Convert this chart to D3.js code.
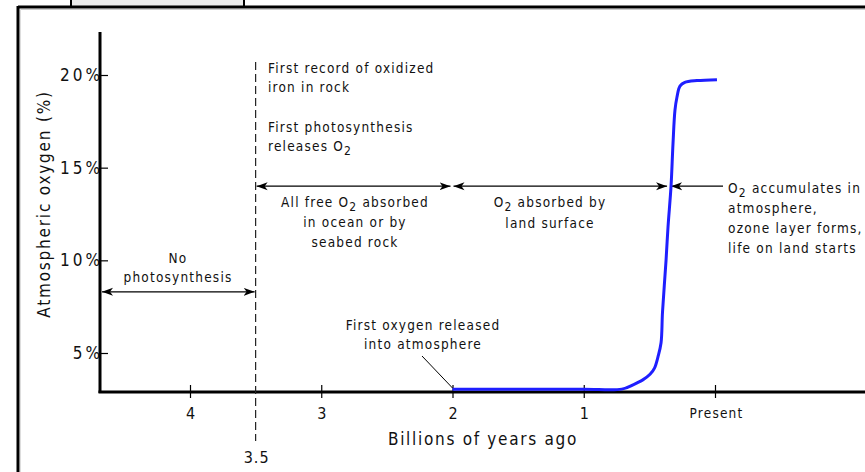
<!DOCTYPE html>
<html>
<head>
<meta charset="utf-8">
<script src="https://cdn.jsdelivr.net/npm/d3@7"></script>
<style>
  body { margin: 0; background: #fff; }
  text { font-family: "DejaVu Sans Condensed", "Liberation Sans Narrow", sans-serif; fill: #111; }
</style>
</head>
<body>
<div id="graphique"></div>
<script>
// ticks of the x axis (billions of years ago)
const xTicks = [4, 3, 2, 1, 0];
const xTickLabels = ["4", "3", "2", "1", "Present"];
const yTicks = [5, 10, 15, 20];
const yTickLabels = ["5%", "10%", "15%", "20%"];

// oxygen curve
const ages = [2.0, 1.5, 1.0, 0.71, 0.62, 0.55, 0.495, 0.46, 0.434, 0.411, 0.40, 0.373, 0.358, 0.335, 0.32, 0.305, 0.29, 0.267, 0.23, 0.137, -0.015];
const oxygen = [3.05, 3.05, 3.05, 3.05, 3.3, 3.55, 3.85, 4.2, 4.8, 5.55, 7.2, 10.0, 11.8, 14.0, 16.3, 18.1, 18.8, 19.4, 19.6, 19.7, 19.75];

// periods shown with arrows
const periodStart = [3.5, 2.0];
const periodEnd = [2.0, 0.35];
const photosynthesisStart = 3.5;

let svg = d3.select("#graphique").append("svg")
    .attr("width", 865)
    .attr("height", 472);

let x = d3.scaleLinear().domain([0, 4]).range([715, 190]);
let y = d3.scaleLinear().domain([5, 20]).range([353, 75]);

const axeX = 392, axeY = 100;

// cadre de la fenetre
svg.append("rect").attr("x", 71).attr("y", -2).attr("width", 173).attr("height", 9)
    .attr("fill", "#ececec").attr("stroke", "#000").attr("stroke-width", 2);
svg.append("line").attr("x1", 18).attr("x2", 865).attr("y1", 7).attr("y2", 7)
    .attr("stroke", "#000").attr("stroke-width", 3);
svg.append("line").attr("x1", 18).attr("x2", 18).attr("y1", 6).attr("y2", 472)
    .attr("stroke", "#000").attr("stroke-width", 3);
svg.append("line").attr("x1", 20).attr("x2", 865).attr("y1", 9.5).attr("y2", 9.5)
    .attr("stroke", "#ccc").attr("stroke-width", 1);
svg.append("line").attr("x1", 20.5).attr("x2", 20.5).attr("y1", 9).attr("y2", 472)
    .attr("stroke", "#ddd").attr("stroke-width", 1);

// fleches
let defs = svg.append("defs");
defs.append("marker").attr("id", "fleche")
    .attr("viewBox", "0 -5 12 10").attr("refX", 11).attr("refY", 0)
    .attr("markerWidth", 12).attr("markerHeight", 10).attr("markerUnits", "userSpaceOnUse")
    .attr("orient", "auto-start-reverse")
    .append("path").attr("d", "M0,-4L11,0L0,4L3,0Z").attr("fill", "#000");

// axe y
let gy = svg.append("g").attr("transform", "translate(" + axeY + ",0)")
    .call(d3.axisLeft(y).tickValues(yTicks).tickFormat((d, i) => yTickLabels[i]).tickSize(-8).tickPadding(0));
gy.select(".domain").remove();
gy.selectAll(".tick line").attr("stroke", "#000").attr("stroke-width", 1.2);
// le letter-spacing ajoute un espace apres le %, on le compense
gy.selectAll(".tick text").attr("font-size", 17).attr("fill", "#111")
    .attr("letter-spacing", 3).attr("dx", 3)
    .style("font-family", "'DejaVu Sans Condensed', sans-serif");
svg.append("line").attr("x1", axeY).attr("x2", axeY).attr("y1", 32).attr("y2", axeX + 1)
    .attr("stroke", "#000").attr("stroke-width", 3);

// axe x
let gx = svg.append("g").attr("transform", "translate(0," + axeX + ")")
    .call(d3.axisBottom(x).tickValues(xTicks).tickFormat((d, i) => xTickLabels[i]).tickSize(6).tickPadding(10));
gx.select(".domain").remove();
gx.selectAll(".tick line").attr("y1", -7).attr("y2", 6).attr("stroke", "#000").attr("stroke-width", 1.2);
gx.selectAll(".tick text").attr("font-size", 16).attr("fill", "#111")
    .style("font-family", "'DejaVu Sans Condensed', sans-serif");
gx.selectAll(".tick text").filter(d => d == 0).attr("font-size", 13.5).attr("letter-spacing", 1.2).attr("dx", 1);
svg.append("line").attr("x1", axeY - 1.5).attr("x2", 865).attr("y1", axeX).attr("y2", axeX)
    .attr("stroke", "#000").attr("stroke-width", 3);

// titres des axes
svg.append("text").text("Billions of years ago")
    .attr("x", 483).attr("y", 445).attr("text-anchor", "middle")
    .attr("font-size", 17).attr("letter-spacing", 1.7);
svg.append("text").text("Atmospheric oxygen (%)")
    .attr("transform", "translate(50,204) rotate(-90)").attr("text-anchor", "middle")
    .attr("font-size", 17).attr("letter-spacing", 1.8);

// ligne pointillee a 3.5
svg.append("line").attr("x1", x(photosynthesisStart)).attr("x2", x(photosynthesisStart))
    .attr("y1", 62).attr("y2", 441)
    .attr("stroke", "#222").attr("stroke-width", 1.2).attr("stroke-dasharray", "8,4");
svg.append("text").text("3.5").attr("x", x(photosynthesisStart) + 1).attr("y", 463)
    .attr("text-anchor", "middle").attr("font-size", 16).attr("letter-spacing", 1);

// fleches des periodes
let yFleche = y(14);
svg.append("line").attr("x1", axeY + 2).attr("x2", x(photosynthesisStart) - 1)
    .attr("y1", y(8.3)).attr("y2", y(8.3))
    .attr("stroke", "#000").attr("stroke-width", 1.2)
    .attr("marker-start", "url(#fleche)").attr("marker-end", "url(#fleche)");
svg.selectAll(".periode").data(periodStart).enter().append("line")
    .attr("class", "periode")
    .attr("x1", (d, i) => x(d) + 1).attr("x2", (d, i) => x(periodEnd[i]) - 2)
    .attr("y1", yFleche).attr("y2", yFleche)
    .attr("stroke", "#000").attr("stroke-width", 1.2)
    .attr("marker-start", "url(#fleche)").attr("marker-end", "url(#fleche)");
svg.append("line").attr("x1", 723).attr("x2", x(periodEnd[1]) + 2)
    .attr("y1", yFleche).attr("y2", yFleche)
    .attr("stroke", "#000").attr("stroke-width", 1.2)
    .attr("marker-end", "url(#fleche)");

// courbe d'oxygene
let points = ages.map((d, i) => [d, oxygen[i]]);
svg.append("path").datum(points)
    .attr("d", d3.line().x(d => x(d[0])).y(d => y(d[1])).curve(d3.curveCatmullRom.alpha(0.5)))
    .attr("fill", "none").attr("stroke", "#1f1fff").attr("stroke-width", 3);

// textes
function bloc(lignes, px, py, ancre, pas) {
    lignes.forEach((l, i) => {
        let t = svg.append("text").attr("x", px).attr("y", py + i * pas)
            .attr("text-anchor", ancre).attr("font-size", 13.5).attr("letter-spacing", 1.2);
        // O2 avec indice
        if (l.indexOf("O2") >= 0) {
            let morceaux = l.split("O2");
            t.append("tspan").text(morceaux[0] + "O");
            t.append("tspan").text("2").attr("dy", 4).attr("font-size", 12);
            t.append("tspan").text(morceaux[1]).attr("dy", -4);
        } else {
            t.text(l);
        }
    });
}
bloc(["First record of oxidized", "iron in rock"], 268, 73, "start", 19);
bloc(["First photosynthesis", "releases O2"], 268, 132, "start", 19);
bloc(["No", "photosynthesis"], 178, 263, "middle", 19);
bloc(["All free O2 absorbed", "in ocean or by", "seabed rock"], 355, 207, "middle", 20);
bloc(["O2 absorbed by", "land surface"], 550, 207, "middle", 21);
bloc(["O2 accumulates in", "atmosphere,", "ozone layer forms,", "life on land starts"], 728, 193, "start", 20);
bloc(["First oxygen released", "into atmosphere"], 423, 330, "middle", 19);

svg.append("line").attr("x1", 422).attr("y1", 356).attr("x2", x(2)).attr("y2", 388)
    .attr("stroke", "#000").attr("stroke-width", 1);
</script>
</body>
</html>
